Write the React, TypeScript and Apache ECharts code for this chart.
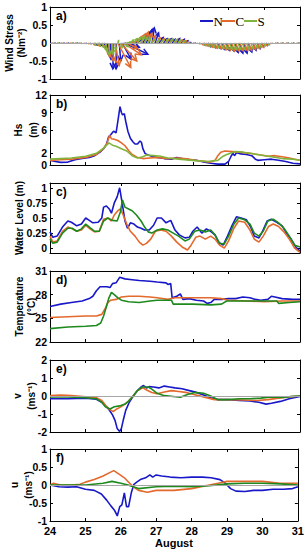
import React, { useEffect, useRef } from "react";
import * as echarts from "echarts";

// ---------- data ----------
// wind stress arrows: [time (day of August), east component, north component] in N m^-2
const windN: [number, number, number][] = [
  [24.0,0.02,-0.01],[24.125,0.02,-0.01],[24.25,0.02,-0.01],[24.375,0.02,-0.01],[24.5,0.02,-0.01],[24.625,0.02,-0.01],[24.75,0.02,-0.01],[24.875,0.02,-0.02],[25.0,0.03,-0.02],[25.125,0.04,-0.03],[25.25,0.06,-0.05],[25.375,0.08,-0.07],[25.5,0.08,-0.12],[25.6,0.05,-0.25],[25.7,0.01,-0.45],[25.78,-0.02,-0.72],[25.86,-0.01,-0.72],[25.94,0.04,-0.5],[26.02,0.25,-0.45],[26.09,0.65,-0.31],[26.2,0.3,-0.12],[26.3,0.15,0.05],[26.45,0.12,0.1],[26.6,0.12,0.2],[26.7,0.1,0.3],[26.78,0.08,0.38],[26.86,0.06,0.42],[26.94,0.1,0.28],[27.05,0.12,0.15],[27.18,0.1,0.12],[27.3,0.1,0.12],[27.42,0.08,0.1],[27.55,0.08,0.12],[27.68,0.08,0.1],[27.8,0.06,0.06],[27.92,0.04,0.02],[28.05,0.03,0.0],[28.18,0.03,-0.03],[28.3,0.05,-0.06],[28.42,0.07,-0.1],[28.55,0.08,-0.13],[28.68,0.09,-0.15],[28.8,0.09,-0.18],[28.92,0.1,-0.2],[29.05,0.1,-0.22],[29.17,0.1,-0.26],[29.3,0.1,-0.28],[29.42,0.1,-0.28],[29.55,0.1,-0.25],[29.68,0.09,-0.2],[29.8,0.08,-0.15],[29.92,0.06,-0.1],[30.05,0.04,-0.05],[30.2,0.02,-0.02],[30.35,0.02,-0.01],[30.5,0.02,-0.01],[30.65,0.02,-0.01],[30.8,0.02,-0.01],[30.95,0.02,-0.01]
];
const windC: [number, number, number][] = [
  [24.06,0.02,-0.01],[24.19,0.02,-0.01],[24.31,0.02,-0.01],[24.44,0.02,-0.01],[24.56,0.02,-0.01],[24.69,0.02,-0.01],[24.81,0.02,-0.01],[24.94,0.03,-0.02],[25.06,0.04,-0.03],[25.19,0.06,-0.05],[25.31,0.08,-0.08],[25.44,0.08,-0.12],[25.55,0.05,-0.22],[25.65,0.02,-0.38],[25.74,0.04,-0.5],[25.82,0.12,-0.62],[25.9,0.36,-0.68],[25.98,0.45,-0.5],[26.06,0.5,-0.33],[26.15,0.3,-0.15],[26.25,0.15,0.03],[26.35,0.12,0.1],[26.45,0.12,0.18],[26.55,0.12,0.25],[26.65,0.1,0.3],[26.75,0.1,0.27],[26.85,0.1,0.2],[26.98,0.1,0.14],[27.1,0.1,0.12],[27.23,0.1,0.1],[27.36,0.08,0.1],[27.49,0.08,0.1],[27.62,0.08,0.08],[27.75,0.06,0.06],[27.88,0.04,0.03],[28.0,0.03,0.0],[28.12,0.03,-0.02],[28.24,0.04,-0.05],[28.36,0.06,-0.08],[28.48,0.07,-0.11],[28.6,0.08,-0.14],[28.72,0.08,-0.16],[28.84,0.09,-0.18],[28.96,0.09,-0.2],[29.08,0.09,-0.22],[29.2,0.09,-0.22],[29.32,0.09,-0.22],[29.44,0.09,-0.21],[29.56,0.08,-0.2],[29.68,0.08,-0.18],[29.8,0.07,-0.15],[29.92,0.06,-0.12],[30.04,0.04,-0.07],[30.16,0.03,-0.03],[30.3,0.02,-0.01],[30.45,0.02,-0.01],[30.6,0.02,-0.01],[30.75,0.02,-0.01],[30.9,0.02,-0.01]
];
const windS: [number, number, number][] = [
  [24.1,0.02,-0.01],[24.22,0.02,-0.01],[24.35,0.02,-0.01],[24.48,0.02,-0.01],[24.6,0.02,-0.01],[24.72,0.02,-0.01],[24.85,0.02,-0.01],[24.97,0.03,-0.02],[25.1,0.04,-0.03],[25.22,0.06,-0.05],[25.34,0.07,-0.08],[25.46,0.06,-0.13],[25.56,0.03,-0.22],[25.66,0.0,-0.33],[25.76,0.0,-0.3],[25.84,0.0,-0.18],[25.9,0.02,0.06],[25.96,0.06,-0.12],[26.04,0.15,-0.1],[26.14,0.12,0.02],[26.24,0.1,0.08],[26.34,0.1,0.12],[26.44,0.1,0.15],[26.54,0.1,0.18],[26.64,0.1,0.16],[26.74,0.08,0.13],[26.86,0.08,0.1],[26.98,0.08,0.09],[27.1,0.08,0.09],[27.22,0.08,0.1],[27.34,0.08,0.1],[27.46,0.08,0.09],[27.58,0.07,0.08],[27.7,0.06,0.06],[27.82,0.04,0.03],[27.94,0.03,0.01],[28.06,0.03,-0.01],[28.18,0.04,-0.03],[28.3,0.05,-0.06],[28.42,0.06,-0.09],[28.54,0.07,-0.11],[28.66,0.07,-0.13],[28.78,0.08,-0.15],[28.9,0.08,-0.16],[29.02,0.08,-0.17],[29.14,0.08,-0.18],[29.26,0.08,-0.18],[29.38,0.08,-0.18],[29.5,0.08,-0.17],[29.62,0.07,-0.16],[29.74,0.07,-0.14],[29.86,0.06,-0.12],[29.98,0.05,-0.08],[30.1,0.04,-0.05],[30.22,0.03,-0.02],[30.36,0.02,-0.01],[30.5,0.02,-0.01],[30.65,0.02,-0.01],[30.8,0.02,-0.01],[30.95,0.02,-0.01]
];

// significant wave height Hs (m): [time, value]
const hsN: [number, number][] = [
  [24,0.8],[24.15,0.6],[24.3,0.45],[24.5,0.5],[24.7,0.9],[24.9,1.1],[25.1,1.3],[25.25,1.6],[25.4,2.2],[25.5,2.8],[25.58,3.5],[25.64,4.8],[25.7,5.2],[25.78,5.8],[25.85,5.5],[25.9,7.5],[25.96,10.0],[26.0,9.0],[26.03,8.6],[26.08,8.8],[26.12,7.5],[26.18,5.8],[26.25,4.6],[26.32,4.0],[26.38,3.6],[26.45,3.6],[26.52,4.1],[26.56,3.9],[26.6,2.8],[26.66,2.0],[26.75,1.7],[26.85,1.5],[27.0,1.3],[27.2,1.1],[27.4,1.0],[27.55,1.3],[27.7,1.1],[27.9,0.9],[28.1,0.8],[28.3,0.5],[28.5,0.3],[28.7,0.15],[28.9,0.15],[29.0,0.6],[29.07,1.5],[29.12,2.0],[29.17,1.6],[29.22,2.1],[29.35,1.9],[29.5,1.8],[29.65,1.6],[29.75,1.0],[29.82,0.8],[30.0,0.9],[30.2,1.0],[30.4,0.8],[30.6,0.6],[30.8,0.3],[31,0.2]
];
const hsC: [number, number][] = [
  [24,0.8],[24.3,0.9],[24.6,1.0],[25.0,1.3],[25.3,1.8],[25.5,2.8],[25.6,3.8],[25.67,5.1],[25.72,4.5],[25.8,4.4],[25.9,4.2],[26.0,3.8],[26.1,3.3],[26.2,2.5],[26.3,1.8],[26.45,1.3],[26.6,1.1],[26.8,1.2],[27.0,1.3],[27.3,1.1],[27.6,1.2],[27.9,1.0],[28.2,0.7],[28.5,0.5],[28.62,0.8],[28.7,1.6],[28.78,2.2],[28.9,2.4],[29.1,2.3],[29.3,2.2],[29.6,2.0],[29.9,1.7],[30.1,1.5],[30.3,1.6],[30.5,1.4],[30.7,1.2],[30.85,1.0],[31,0.8]
];
const hsS: [number, number][] = [
  [24,1.0],[24.3,1.1],[24.6,1.2],[25.0,1.5],[25.3,2.0],[25.5,2.9],[25.65,3.8],[25.75,3.4],[25.85,3.2],[26.0,2.8],[26.15,2.4],[26.3,1.6],[26.45,1.2],[26.6,1.4],[26.7,1.7],[26.9,1.6],[27.1,1.5],[27.3,1.2],[27.6,1.0],[28.0,0.8],[28.4,0.6],[28.7,0.8],[28.82,1.4],[28.95,1.8],[29.05,2.0],[29.2,2.3],[29.4,2.2],[29.6,2.0],[29.9,1.7],[30.2,1.4],[30.5,1.1],[30.8,1.0],[31,0.8]
];

// water level (m)
const wlN: [number, number][] = [
  [24,0.27],[24.08,0.18],[24.2,0.2],[24.35,0.35],[24.5,0.45],[24.6,0.43],[24.75,0.37],[24.88,0.4],[25.0,0.5],[25.1,0.46],[25.2,0.42],[25.35,0.43],[25.45,0.5],[25.5,0.68],[25.58,0.7],[25.66,0.65],[25.72,0.58],[25.8,0.75],[25.88,0.85],[25.95,1.0],[26.02,0.75],[26.1,0.45],[26.17,0.33],[26.25,0.42],[26.35,0.4],[26.45,0.35],[26.55,0.33],[26.65,0.3],[26.78,0.3],[26.9,0.38],[27.0,0.5],[27.12,0.5],[27.25,0.42],[27.38,0.46],[27.5,0.3],[27.62,0.22],[27.78,0.17],[27.9,0.18],[28.0,0.28],[28.12,0.35],[28.25,0.25],[28.38,0.32],[28.5,0.28],[28.62,0.22],[28.72,0.1],[28.85,0.05],[28.97,0.2],[29.1,0.38],[29.22,0.52],[29.35,0.5],[29.5,0.47],[29.62,0.35],[29.72,0.2],[29.85,0.17],[29.95,0.28],[30.08,0.45],[30.2,0.48],[30.35,0.43],[30.5,0.37],[30.62,0.25],[30.75,0.15],[30.88,0.02],[31,-0.05]
];
const wlC: [number, number][] = [
  [24,0.2],[24.08,0.1],[24.2,0.12],[24.35,0.28],[24.5,0.35],[24.62,0.32],[24.75,0.28],[24.88,0.3],[25.0,0.38],[25.12,0.32],[25.25,0.27],[25.38,0.28],[25.5,0.48],[25.62,0.5],[25.72,0.45],[25.8,0.55],[25.9,0.62],[25.97,0.65],[26.05,0.55],[26.15,0.4],[26.25,0.28],[26.38,0.2],[26.5,0.1],[26.6,0.05],[26.7,0.08],[26.82,0.15],[26.95,0.28],[27.1,0.3],[27.25,0.28],[27.4,0.2],[27.55,0.1],[27.7,0.02],[27.85,-0.03],[27.95,0.05],[28.08,0.18],[28.2,0.2],[28.35,0.15],[28.5,0.2],[28.62,0.15],[28.75,0.05],[28.88,0.0],[29.0,0.12],[29.15,0.33],[29.28,0.45],[29.45,0.43],[29.6,0.3],[29.72,0.15],[29.85,0.1],[29.97,0.2],[30.12,0.36],[30.25,0.4],[30.4,0.36],[30.55,0.27],[30.7,0.15],[30.85,0.0],[31,-0.07]
];
const wlS: [number, number][] = [
  [24,0.15],[24.08,0.08],[24.2,0.1],[24.35,0.25],[24.5,0.33],[24.62,0.33],[24.75,0.28],[24.88,0.32],[25.0,0.4],[25.12,0.34],[25.25,0.28],[25.38,0.28],[25.5,0.45],[25.62,0.5],[25.75,0.46],[25.88,0.45],[25.97,0.6],[26.03,0.8],[26.1,0.68],[26.2,0.65],[26.3,0.62],[26.42,0.55],[26.55,0.45],[26.65,0.35],[26.75,0.27],[26.85,0.25],[27.0,0.3],[27.15,0.32],[27.3,0.3],[27.45,0.25],[27.6,0.2],[27.78,0.12],[27.9,0.15],[28.05,0.28],[28.2,0.3],[28.35,0.27],[28.5,0.3],[28.62,0.22],[28.75,0.08],[28.88,0.07],[29.0,0.2],[29.15,0.4],[29.28,0.5],[29.45,0.47],[29.6,0.4],[29.72,0.25],[29.85,0.2],[29.97,0.28],[30.1,0.45],[30.25,0.48],[30.4,0.42],[30.55,0.33],[30.7,0.2],[30.85,0.05],[31,0.02]
];

// temperature (deg C)
const tempN: [number, number][] = [
  [24,26.5],[24.3,26.8],[24.6,27.0],[24.9,27.2],[25.1,27.5],[25.2,27.8],[25.3,28.5],[25.4,29.0],[25.6,29.0],[25.68,28.9],[25.75,29.4],[25.85,29.5],[25.95,30.2],[26.1,30.0],[26.3,29.9],[26.5,29.8],[26.8,29.7],[27.0,29.6],[27.25,29.5],[27.3,29.3],[27.38,29.4],[27.42,27.6],[27.55,27.8],[27.65,28.1],[27.72,27.4],[27.9,27.5],[28.1,27.3],[28.3,27.2],[28.4,26.9],[28.5,27.0],[28.6,27.4],[28.8,27.4],[29.0,27.5],[29.2,27.5],[29.4,27.7],[29.6,27.6],[29.75,27.4],[29.9,27.3],[30.1,27.4],[30.2,27.8],[30.3,27.7],[30.5,27.5],[30.8,27.4],[31,27.4]
];
const tempC: [number, number][] = [
  [24,25.1],[24.5,25.2],[25.0,25.3],[25.3,25.3],[25.45,25.5],[25.55,26.3],[25.62,27.0],[25.7,27.3],[25.85,27.4],[26.0,27.7],[26.2,27.8],[26.5,27.8],[26.8,27.7],[27.0,27.6],[27.3,27.4],[27.5,27.6],[28.0,27.6],[28.5,27.6],[28.8,27.5],[29.0,27.3],[29.5,27.2],[30.0,27.1],[30.5,27.2],[31,27.2]
];
const tempS: [number, number][] = [
  [24,23.7],[24.5,23.9],[25.0,24.0],[25.3,24.1],[25.42,24.4],[25.5,25.3],[25.58,26.5],[25.65,27.6],[25.72,28.3],[25.8,28.0],[25.9,27.6],[26.0,27.3],[26.2,27.1],[26.5,27.0],[26.8,27.2],[27.0,27.3],[27.4,27.3],[27.45,26.8],[28.0,26.8],[28.5,26.7],[28.8,26.8],[28.95,27.2],[29.5,27.2],[30.0,27.2],[30.35,27.2],[30.4,26.9],[30.7,27.0],[31,27.1]
];

// v velocity (m s^-1)
const vN: [number, number][] = [
  [24,-0.15],[24.5,-0.15],[25.0,-0.12],[25.3,-0.18],[25.45,-0.35],[25.55,-0.55],[25.65,-0.75],[25.75,-1.05],[25.82,-1.35],[25.88,-1.8],[25.95,-1.97],[26.0,-1.8],[26.05,-1.35],[26.12,-0.8],[26.22,-0.35],[26.33,0.0],[26.45,0.3],[26.55,0.5],[26.62,0.58],[26.7,0.45],[26.78,0.52],[26.9,0.5],[27.05,0.45],[27.2,0.55],[27.35,0.5],[27.5,0.45],[27.7,0.4],[27.9,0.3],[28.1,0.2],[28.3,0.05],[28.5,-0.1],[28.7,-0.2],[29.0,-0.2],[29.3,-0.25],[29.6,-0.28],[29.85,-0.35],[30.05,-0.45],[30.2,-0.4],[30.45,-0.3],[30.7,-0.15],[31,-0.03]
];
const vC: [number, number][] = [
  [24,0.02],[24.3,0.05],[24.6,0.03],[25.0,-0.05],[25.3,-0.1],[25.45,-0.25],[25.55,-0.5],[25.65,-0.72],[25.77,-0.87],[25.87,-0.72],[25.97,-0.62],[26.1,-0.45],[26.2,-0.28],[26.33,0.0],[26.45,0.3],[26.6,0.45],[26.72,0.32],[26.85,0.2],[27.0,0.12],[27.2,0.22],[27.4,0.3],[27.6,0.25],[27.8,0.2],[28.0,0.1],[28.3,-0.05],[28.6,-0.2],[29.0,-0.2],[29.4,-0.22],[29.8,-0.25],[30.1,-0.2],[30.4,-0.12],[30.7,-0.05],[31,0.0]
];
const vS: [number, number][] = [
  [24,-0.05],[24.5,-0.05],[25.0,-0.1],[25.3,-0.15],[25.45,-0.35],[25.55,-0.6],[25.68,-0.72],[25.8,-0.6],[25.95,-0.55],[26.1,-0.45],[26.2,-0.28],[26.33,0.0],[26.45,0.3],[26.58,0.5],[26.75,0.5],[26.85,0.38],[27.0,0.15],[27.2,0.02],[27.45,-0.03],[27.65,-0.07],[27.85,0.08],[28.05,0.2],[28.3,0.15],[28.5,0.0],[28.7,-0.2],[29.0,-0.2],[29.3,-0.15],[29.6,-0.15],[29.9,-0.12],[30.2,-0.05],[30.5,-0.08],[30.8,-0.02],[31,0.0]
];

// u velocity (m s^-1)
const uN: [number, number][] = [
  [24,0.0],[24.25,-0.05],[24.5,-0.06],[24.75,-0.05],[25.0,-0.12],[25.25,-0.15],[25.45,-0.25],[25.6,-0.42],[25.72,-0.58],[25.82,-0.7],[25.9,-0.86],[25.97,-0.6],[26.03,-0.55],[26.1,-0.22],[26.16,-0.6],[26.22,-0.6],[26.3,-0.2],[26.37,0.02],[26.45,0.08],[26.55,0.15],[26.7,0.2],[26.82,0.28],[26.9,0.22],[27.0,0.28],[27.15,0.25],[27.4,0.22],[27.7,0.2],[28.0,0.22],[28.3,0.22],[28.55,0.2],[28.8,0.15],[28.95,0.05],[29.1,-0.1],[29.25,-0.17],[29.5,-0.18],[29.75,-0.15],[30.0,-0.15],[30.3,-0.12],[30.6,-0.12],[30.85,-0.1],[31,-0.05]
];
const uC: [number, number][] = [
  [24,0.0],[24.1,0.05],[24.3,0.0],[24.6,0.0],[24.85,0.02],[25.0,0.08],[25.25,0.15],[25.5,0.25],[25.7,0.35],[25.8,0.4],[25.95,0.3],[26.1,0.2],[26.25,0.05],[26.35,-0.05],[26.5,-0.15],[26.75,-0.2],[27.0,-0.15],[27.5,-0.15],[28.0,-0.1],[28.5,0.0],[28.75,0.05],[29.0,0.1],[29.5,0.1],[30.0,0.1],[30.5,0.05],[31,0.05]
];
const uS: [number, number][] = [
  [24,0.0],[24.5,0.0],[25.0,0.0],[25.5,0.05],[25.75,0.1],[26.0,0.05],[26.2,0.0],[26.35,-0.05],[26.5,-0.1],[27.0,-0.05],[27.5,-0.03],[28.0,-0.05],[28.5,-0.02],[29.0,0.03],[29.5,0.05],[30.0,0.05],[30.5,0.03],[31,0.0]
];

// axis ticks
const yTicksA = [-1, -0.5, 0, 0.5, 1];
const yTicksB = [0, 2, 6, 9, 12];
const yTicksC = [0, 0.25, 0.5, 0.75, 1];
const yTicksD = [22, 25, 28, 31];
const yTicksE = [-2, -1, 0, 1, 2];
const yTicksF = [-1, -0.5, 0, 0.5, 1];
const stationNames = ["N", "C", "S"];
const panelLetters = ["a)", "b)", "c)", "d)", "e)", "f)"];
const xAxisTitle = "August";

// ---------- styles ----------
const BLUE = "#1818c8";
const ORANGE = "#e4692c";
const GREEN_LIGHT = "#80b33c";
const GREEN_DARK = "#1e8a1e";
const FONT = "'Liberation Sans', Arial, Helvetica, sans-serif";
const SERIF = "'Liberation Serif', 'Times New Roman', serif";

const layout = [
  { top: 7, height: 72, min: -1, max: 1, ticks: yTicksA, titles: [{ t: "Wind Stress", x: 9 }, { t: "(Nm\u207B\u00B2)", x: 21 }] },
  { top: 95, height: 70, min: 0, max: 12, ticks: yTicksB, titles: [{ t: "Hs", x: 18 }, { t: "(m)", x: 33 }] },
  { top: 183, height: 70, min: -0.08, max: 1.08, ticks: yTicksC, titles: [{ t: "Water Level (m)", x: 19 }] },
  { top: 271, height: 71, min: 22, max: 31, ticks: yTicksD, titles: [{ t: "Temperature", x: 19 }, { t: "(\u00B0C)", x: 31 }] },
  { top: 360, height: 72, min: -2, max: 2, ticks: yTicksE, titles: [{ t: "v", x: 17 }, { t: "(ms\u207B\u00B9)", x: 31 }] },
  { top: 449, height: 72, min: -1, max: 1, ticks: yTicksF, titles: [{ t: "u", x: 14 }, { t: "(ms\u207B\u00B9)", x: 28 }] },
];

const ARROW_SCALE = 1.0; // days of x per N m^-2, matches the panel's pixel aspect

function quiverSeries(data: [number, number, number][], color: string) {
  return {
    type: "custom",
    xAxisIndex: 0,
    yAxisIndex: 0,
    clip: false,
    data,
    encode: { x: 0, y: 2 },
    renderItem: (_params: any, api: any) => {
      const t = api.value(0);
      const u = api.value(1);
      const v = api.value(2);
      const p0 = api.coord([t, 0]);
      const p1 = api.coord([t + u * ARROW_SCALE, v]);
      const dx = p1[0] - p0[0];
      const dy = p1[1] - p0[1];
      const len = Math.sqrt(dx * dx + dy * dy);
      const children: any[] = [
        {
          type: "line",
          shape: { x1: p0[0], y1: p0[1], x2: p1[0] + (len < 0.8 ? 0.8 : 0), y2: p1[1] },
          style: { stroke: color, lineWidth: 1.5 },
        },
      ];
      if (len > 2) {
        const ux = dx / len, uy = dy / len;
        const h = Math.min(len * 0.35, 6);
        const w = h * 0.5;
        const bx = p1[0] - ux * h, by = p1[1] - uy * h;
        children.push({
          type: "polyline",
          shape: { points: [[bx - uy * w, by + ux * w], [p1[0], p1[1]], [bx + uy * w, by - ux * w]] },
          style: { stroke: color, lineWidth: 1.5, fill: null },
        });
      }
      return { type: "group", children };
    },
  };
}

function lineSeries(idx: number, data: [number, number][], color: string, width = 1.6) {
  return {
    type: "line",
    xAxisIndex: idx,
    yAxisIndex: idx,
    data,
    symbol: "none",
    showSymbol: false,
    silent: true,
    lineStyle: { color, width },
    itemStyle: { color },
  };
}

function zeroLine(idx: number) {
  return {
    type: "line",
    xAxisIndex: idx,
    yAxisIndex: idx,
    data: [],
    silent: true,
    markLine: {
      silent: true,
      symbol: ["none", "none"],
      label: { show: false },
      lineStyle: { color: "#a6a6a6", type: "solid", width: 1 },
      data: [{ yAxis: 0 }],
    },
  };
}

function buildOption() {
  const grid = layout.map((p) => ({ left: 50, width: 250, top: p.top, height: p.height }));
  const axisLine = { show: true, onZero: false, lineStyle: { color: "#000", width: 1 } };
  const tickStyle = { color: "#000", width: 1 };
  const labelStyle = { color: "#000", fontFamily: FONT, fontWeight: "bold" as const, fontSize: 11 };
  const yLabelStyle = { ...labelStyle, fontSize: 10.5 };

  const xAxis: any[] = [];
  layout.forEach((_p, i) => {
    xAxis.push({
      type: "value", gridIndex: i, min: 24, max: 31, interval: 1, position: "bottom",
      axisLine, axisTick: { show: true, inside: true, length: 3, lineStyle: tickStyle },
      axisLabel: { show: i === 5, margin: 4, ...labelStyle },
      splitLine: { show: false },
      name: i === 5 ? xAxisTitle : "", nameLocation: "middle", nameGap: 16,
      nameTextStyle: { ...labelStyle },
    });
  });
  layout.forEach((_p, i) => {
    xAxis.push({
      type: "value", gridIndex: i, min: 24, max: 31, interval: 1, position: "top",
      axisLine, axisTick: { show: true, inside: true, length: 3, lineStyle: tickStyle },
      axisLabel: { show: false }, splitLine: { show: false },
    });
  });

  const yAxis: any[] = [];
  layout.forEach((p, i) => {
    yAxis.push({
      type: "value", gridIndex: i, min: p.min, max: p.max, position: "left",
      axisLine, axisTick: { show: true, inside: true, length: 3, lineStyle: tickStyle, customValues: p.ticks },
      axisLabel: { show: true, margin: 3, customValues: p.ticks, ...yLabelStyle },
      splitLine: { show: false },
    });
  });
  layout.forEach((p, i) => {
    yAxis.push({
      type: "value", gridIndex: i, min: p.min, max: p.max, position: "right",
      axisLine, axisTick: { show: true, inside: true, length: 3, lineStyle: tickStyle, customValues: p.ticks },
      axisLabel: { show: false, customValues: p.ticks }, splitLine: { show: false },
    });
  });

  const series: any[] = [
    zeroLine(0),
    quiverSeries(windN, BLUE),
    quiverSeries(windC, ORANGE),
    quiverSeries(windS, GREEN_LIGHT),
    lineSeries(1, hsN, BLUE),
    lineSeries(1, hsC, ORANGE),
    lineSeries(1, hsS, GREEN_LIGHT),
    lineSeries(2, wlN, BLUE),
    lineSeries(2, wlC, ORANGE),
    lineSeries(2, wlS, GREEN_DARK),
    lineSeries(3, tempN, BLUE),
    lineSeries(3, tempC, ORANGE),
    lineSeries(3, tempS, GREEN_DARK),
    zeroLine(4),
    lineSeries(4, vN, BLUE),
    lineSeries(4, vC, ORANGE),
    lineSeries(4, vS, GREEN_DARK),
    zeroLine(5),
    lineSeries(5, uN, BLUE),
    lineSeries(5, uC, ORANGE),
    lineSeries(5, uS, GREEN_DARK),
  ];

  const graphic: any[] = [];
  layout.forEach((p, i) => {
    const cy = p.top + p.height / 2;
    p.titles.forEach((tt) => {
      graphic.push({
        type: "text", x: tt.x, y: cy, rotation: Math.PI / 2, silent: true,
        style: {
          text: tt.t, fill: "#000", fontFamily: FONT, fontWeight: "bold", fontSize: 10,
          textAlign: "center", textVerticalAlign: "middle", align: "center", verticalAlign: "middle",
        },
      });
    });
    graphic.push({
      type: "text", x: 56, y: p.top + 9, silent: true,
      style: {
        text: panelLetters[i], fill: "#000", fontFamily: FONT, fontWeight: "bold", fontSize: 12,
        textAlign: "left", textVerticalAlign: "middle", align: "left", verticalAlign: "middle",
      },
    });
  });
  const legendColors = [BLUE, ORANGE, GREEN_LIGHT];
  const legendX = [200, 222, 244];
  stationNames.forEach((n, k) => {
    const x0 = legendX[k];
    graphic.push({
      type: "line", silent: true,
      shape: { x1: x0, y1: 21, x2: x0 + 13, y2: 21 },
      style: { stroke: legendColors[k], lineWidth: 2 },
    });
    graphic.push({
      type: "text", x: x0 + 13.5, y: 21.5, silent: true,
      style: {
        text: n, fill: "#000", fontFamily: SERIF, fontSize: 13,
        textAlign: "left", textVerticalAlign: "middle", align: "left", verticalAlign: "middle",
      },
    });
  });

  return { animation: false, backgroundColor: "#fff", grid, xAxis, yAxis, series, graphic };
}

export default function App() {
  const ref = useRef<HTMLDivElement>(null);
  useEffect(() => {
    document.body.style.margin = "0";
    const chart = echarts.init(ref.current!, null, { renderer: "svg" });
    chart.setOption(buildOption() as any);
    return () => chart.dispose();
  }, []);
  return <div ref={ref} style={{ width: 307, height: 550 }} />;
}
